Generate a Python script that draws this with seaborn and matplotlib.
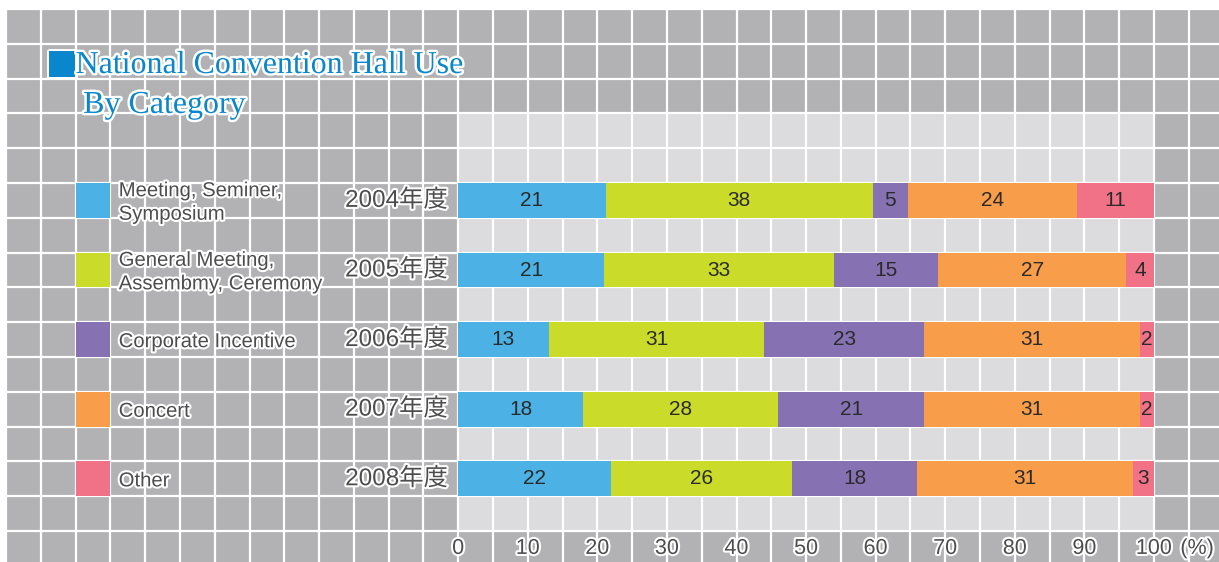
import numpy as np
import pandas as pd
import matplotlib
matplotlib.use("Agg")
import matplotlib.pyplot as plt
import matplotlib.patheffects as pe
from matplotlib.patches import Rectangle
import seaborn as sns

# data
years = ["2004年度", "2005年度", "2006年度", "2007年度", "2008年度"]
categories = ["Meeting, Seminer,\nSymposium", "General Meeting,\nAssembmy, Ceremony",
              "Corporate Incentive", "Concert", "Other"]
meeting = [21, 21, 13, 18, 22]
general = [38, 33, 31, 28, 26]
corporate = [5, 15, 23, 21, 18]
concert = [24, 27, 31, 31, 31]
other = [11, 4, 2, 2, 3]
colors = ["#4cb1e4", "#cadb2a", "#8671b3", "#f89d49", "#f17286"]
x_ticks = [0, 10, 20, 30, 40, 50, 60, 70, 80, 90, 100]

cols = ["meeting", "general", "corporate", "concert", "other"]
df = pd.DataFrame({"year": years, "meeting": meeting, "general": general,
                   "corporate": corporate, "concert": concert, "other": other})
share = df[cols].div(df[cols].sum(axis=1), axis=0) * 100
cum = share.cumsum(axis=1)
for c in cols:
    df[c + "_cum"] = cum[c]

sns.set_style("white")
plt.rcParams['font.family'] = ['Liberation Sans', 'Noto Sans CJK JP', 'DejaVu Sans']

fig = plt.figure(figsize=(12.19, 5.62), dpi=100)
fig.patch.set_facecolor("white")
ax = fig.add_axes([6 / 1219, 0, 1213 / 1219, 553 / 562])
ax.set_facecolor("#b2b2b4")

outline = [pe.withStroke(linewidth=3, foreground="white")]
dark = "#4d4d4d"

# plot area background
ax.add_patch(Rectangle((0, -1.25), 100, 6, facecolor="#dcdcde", edgecolor="none", zorder=0.3))

# stacked bars: draw the cumulative totals from the last category back
for c, col in reversed(list(zip(cols, colors))):
    sns.barplot(data=df, x=c + "_cum", y="year", order=years, color=col, saturation=1,
                width=0.5, orient="y", errorbar=None, linewidth=0, ax=ax, zorder=2)

xmin, xmax = -65, 109.35
ytop, ybot = -2.75, 5.195
ax.vlines(np.arange(xmin, xmax, 5), ytop, ybot, color="white", lw=1.6, zorder=1)
ax.hlines(np.arange(ytop, ybot, 0.5), xmin, xmax, color="white", lw=1.6, zorder=1)
ax.set_xlim(xmin, xmax)
ax.set_ylim(ybot, ytop)
ax.set_xticks([])
ax.set_yticks([])
ax.set_xlabel("")
ax.set_ylabel("")
for s in ax.spines.values():
    s.set_visible(False)

# value labels
for i in range(len(years)):
    for c in cols:
        v = df.loc[i, c]
        mid = df.loc[i, c + "_cum"] - share.loc[i, c] / 2
        ax.text(mid, i, str(v), ha="center", va="center", fontsize=15, color="#2a2a2a", zorder=3)
    ax.text(-1.5, i, years[i], ha="right", va="center", fontsize=17.5, color=dark,
            path_effects=outline, zorder=3)

# legend
for i, (lab, col) in enumerate(zip(categories, colors)):
    ax.add_patch(Rectangle((-55, i - 0.25), 5, 0.5, facecolor=col, edgecolor="none", zorder=2))
    ax.text(-48.8, i + 0.03, lab, ha="left", va="center", fontsize=14.6, color=dark,
            linespacing=1.3, path_effects=outline, zorder=3)

# x tick labels
for t in x_ticks:
    ax.text(t, 5.0, str(t), ha="center", va="center", fontsize=15.5, color=dark,
            path_effects=outline, zorder=3)
ax.annotate("(%)", xy=(100, 5.0), xytext=(19, 0), textcoords="offset points",
            ha="left", va="center", fontsize=15.5, color=dark, path_effects=outline, zorder=3)

# title
title_col = "#0a86cc"
title_fx = [pe.withStroke(linewidth=3.5, foreground="white")]
ax.text(-59.3, -1.83, "■", ha="left", va="baseline", fontsize=25, color=title_col,
        family="DejaVu Sans", path_effects=title_fx, zorder=3)
ax.text(-55.0, -1.83, "National Convention Hall Use", ha="left", va="baseline", fontsize=23,
        color=title_col, family="Liberation Serif", path_effects=title_fx, zorder=3)
ax.text(-53.9, -1.257, "By Category", ha="left", va="baseline", fontsize=23,
        color=title_col, family="Liberation Serif", path_effects=title_fx, zorder=3)

fig.savefig("out.png", dpi=100)
